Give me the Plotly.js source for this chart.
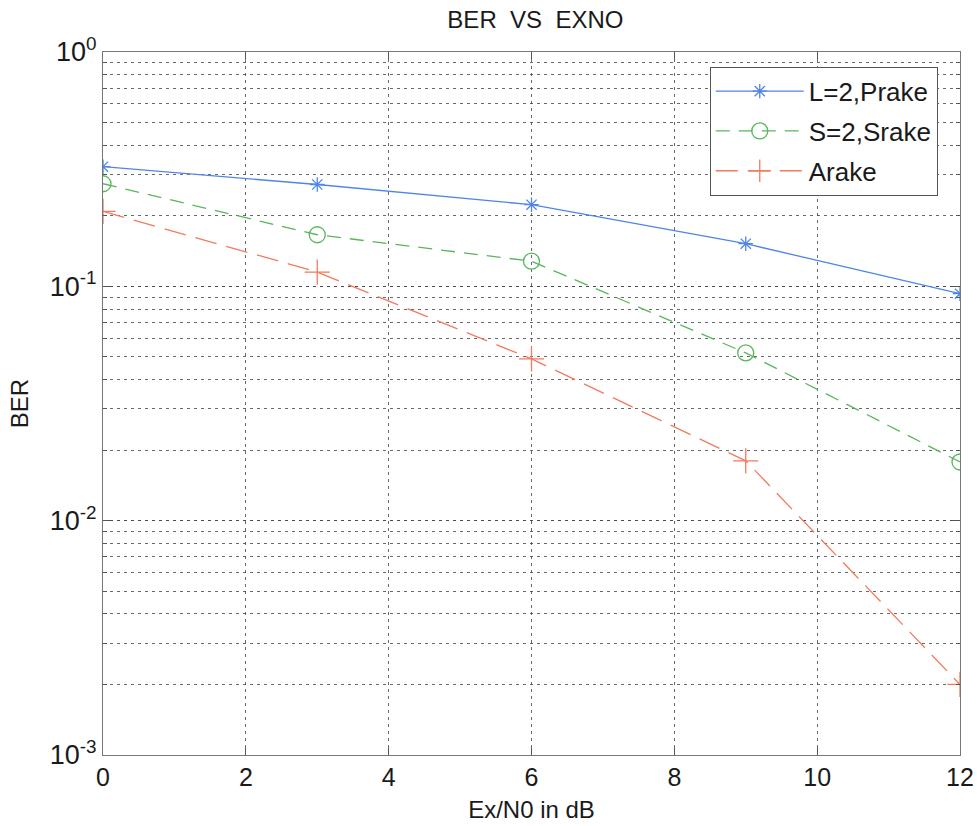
<!DOCTYPE html>
<html>
<head>
<meta charset="utf-8">
<script src="https://cdn.plot.ly/plotly-3.0.1.min.js"></script>
<style>html,body{margin:0;padding:0;background:#fff}#plot{width:977px;height:826px}</style>
</head>
<body>
<div id="plot"></div>
<script>
const xVals = [0, 3, 6, 9, 12];
const prake = [0.324, 0.272, 0.223, 0.152, 0.093];
const srake = [0.274, 0.166, 0.128, 0.052, 0.0178];
const arake = [0.209, 0.115, 0.049, 0.018, 0.002];
const seriesNames = ["L=2,Prake", "S=2,Srake", "Arake"];
const yTickVals = [0.001, 0.01, 0.1, 1];
const yTickText = ["10<sup>-3</sup>", "10<sup>-2</sup>", "10<sup>-1</sup>", "10<sup>0</sup>"];
const xTickVals = [0, 2, 4, 6, 8, 10, 12];

const font = "Liberation Sans, Arial, sans-serif";
const txt = "#1a1a1a";
const traces = [
  {x: xVals, y: prake, name: seriesNames[0], legendgroup: "a", mode: "lines+markers",
   line: {color: "#4f85e8", width: 1.3, dash: "solid"},
   marker: {symbol: "asterisk-open", size: 12, color: "#4f85e8", line: {color: "#4f85e8", width: 1.3}}},
  {x: xVals, y: srake, name: seriesNames[1], legendgroup: "b", mode: "lines+markers",
   line: {color: "#58b65c", width: 1.3, dash: "14px,9px"},
   marker: {symbol: "circle-open", size: 16, color: "#58b65c", line: {color: "#58b65c", width: 1.3}}},
  {x: xVals, y: arake, name: seriesNames[2], legendgroup: "c", mode: "lines+markers",
   line: {color: "#f27a5e", width: 1.3, dash: "22px,10px"},
   marker: {symbol: "cross-thin-open", size: 18, color: "#f27a5e", line: {color: "#f27a5e", width: 1.3}}}
];

const layout = {
  width: 977, height: 826,
  margin: {l: 103, r: 17, t: 52, b: 71},
  paper_bgcolor: "#fff", plot_bgcolor: "#fff",
  font: {family: font, size: 22, color: txt},
  title: {text: "BER  VS  EXNO", x: 0.548, xanchor: "center", y: 0.976, yanchor: "middle", font: {size: 24, family: font, color: txt}},
  showlegend: true,
  legend: {x: 0.708, y: 0.979, xanchor: "left", yanchor: "top", bgcolor: "#fff",
           bordercolor: "#555", borderwidth: 1, font: {size: 26, family: font, color: txt},
           itemwidth: 88, tracegroupgap: 3, traceorder: "grouped"},
  xaxis: {range: [0, 12], tickvals: xTickVals, ticks: "inside", ticklen: 7, tickcolor: "#555",
          showline: true, linecolor: "#777", linewidth: 1, mirror: "ticks",
          showgrid: true, gridcolor: "#444", griddash: "3px,4px", gridwidth: 0.8,
          zeroline: false, tickfont: {size: 25, family: font, color: txt},
          title: {text: "Ex/N0 in dB", standoff: 11, font: {size: 24, family: font, color: txt}}},
  yaxis: {type: "log", range: [-3, 0], tickvals: yTickVals, ticktext: yTickText,
          ticks: "inside", ticklen: 7, tickcolor: "#555",
          showline: true, linecolor: "#777", linewidth: 1, mirror: "ticks",
          showgrid: true, gridcolor: "#444", griddash: "3px,4px", gridwidth: 0.8,
          zeroline: false, tickfont: {size: 27, family: font, color: txt},
          minor: {dtick: "D1", showgrid: true, gridcolor: "#444", griddash: "3px,4px", gridwidth: 0.8,
                  ticks: "inside", ticklen: 4, tickcolor: "#555"},
          title: {text: "BER", standoff: 14, font: {size: 24, family: font, color: txt}}}
};

Plotly.newPlot("plot", traces, layout, {displayModeBar: false, staticPlot: true});
</script>
</body>
</html>
